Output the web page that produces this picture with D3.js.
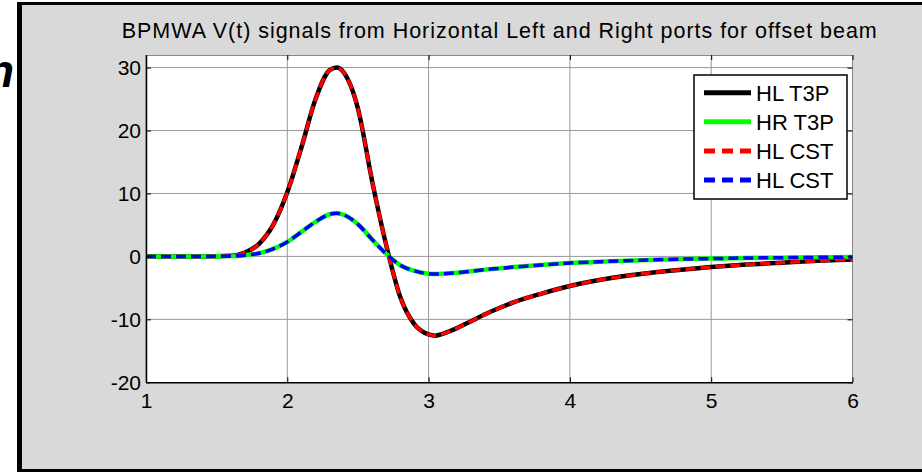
<!DOCTYPE html>
<html>
<head>
<meta charset="utf-8">
<script src="https://cdn.jsdelivr.net/npm/d3@7"></script>
<style>
  body { margin: 0; background: #fff; }
  svg { display: block; font-family: "Liberation Sans", Arial, sans-serif; }
</style>
</head>
<body>
<div id="chart"></div>
<script>
// time axis (ns) and signal values
const tValues = [1.0, 1.2, 1.4, 1.6, 1.7, 1.8, 1.9, 2.0, 2.1, 2.2, 2.3, 2.35, 2.4, 2.5, 2.6, 2.7, 2.8, 2.9, 3.0, 3.05, 3.1, 3.2, 3.3, 3.4, 3.5, 3.6, 3.8, 4.0, 4.25, 4.5, 4.75, 5.0, 5.25, 5.5, 5.75, 6.0];
const hlT3P = [0, 0, 0, 0.1, 0.6, 2.0, 5.0, 10.2, 17.3, 25.0, 29.6, 30.0, 29.2, 23.5, 12.0, 1.8, -6.5, -10.8, -12.4, -12.6, -12.3, -11.4, -10.3, -9.2, -8.2, -7.3, -5.9, -4.7, -3.6, -2.8, -2.2, -1.7, -1.3, -1.0, -0.7, -0.5];
const hrT3P = [0, 0, 0, 0.05, 0.2, 0.5, 1.2, 2.3, 3.9, 5.5, 6.7, 6.85, 6.6, 5.1, 2.7, 0.4, -1.4, -2.3, -2.75, -2.8, -2.75, -2.6, -2.35, -2.1, -1.9, -1.7, -1.35, -1.05, -0.8, -0.6, -0.45, -0.35, -0.25, -0.2, -0.15, -0.1];
const hlCST = [0, 0, 0, 0.1, 0.6, 2.0, 5.0, 10.2, 17.3, 25.0, 29.6, 30.0, 29.2, 23.5, 12.0, 1.8, -6.5, -10.8, -12.4, -12.6, -12.3, -11.4, -10.3, -9.2, -8.2, -7.3, -5.9, -4.7, -3.6, -2.8, -2.2, -1.7, -1.3, -1.0, -0.7, -0.5];
const hrCST = [0, 0, 0, 0.05, 0.2, 0.5, 1.2, 2.3, 3.9, 5.5, 6.7, 6.85, 6.6, 5.1, 2.7, 0.4, -1.4, -2.3, -2.75, -2.8, -2.75, -2.6, -2.35, -2.1, -1.9, -1.7, -1.35, -1.05, -0.8, -0.6, -0.45, -0.35, -0.25, -0.2, -0.15, -0.1];

const xTicks = [1, 2, 3, 4, 5, 6];
const yTicks = [-20, -10, 0, 10, 20, 30];
const legendLabels = ['HL T3P', 'HR T3P', 'HL CST', 'HL CST'];
const title = 'BPMWA V(t) signals from Horizontal Left and Right ports for offset beam';

const series = [
  { name: legendLabels[0], values: hlT3P, color: '#000000', dash: null, w: 4.5 },
  { name: legendLabels[1], values: hrT3P, color: '#00ff00', dash: null, w: 4.5 },
  { name: legendLabels[2], values: hlCST, color: '#ff0000', dash: '10,5', w: 3.5 },
  { name: legendLabels[3], values: hrCST, color: '#0000ff', dash: '10,5', w: 3.5 },
];

const W = 922, H = 472;
const plot = { left: 146, right: 852.5, top: 55, bottom: 382.3 };

const svg = d3.select('#chart').append('svg')
  .attr('width', W)
  .attr('height', H);

// window frame
svg.append('rect').attr('x', 0).attr('y', 0).attr('width', W).attr('height', H).attr('fill', '#fff');
svg.append('text')
  .attr('x', -14).attr('y', 87)
  .attr('font-size', 46).attr('font-style', 'italic').attr('font-weight', 'bold')
  .text('n');
svg.append('rect')
  .attr('x', 19.5).attr('y', 3.5).attr('width', W + 10).attr('height', 467)
  .attr('fill', '#d9d9d9').attr('stroke', '#000').attr('stroke-width', 3);
svg.append('line')
  .attr('x1', 19.5).attr('x2', 19.5).attr('y1', 2).attr('y2', H)
  .attr('stroke', '#000').attr('stroke-width', 5);

const x = d3.scaleLinear().domain([1, 6]).range([plot.left, plot.right]);
const y = d3.scaleLinear().domain([-20, 32]).range([plot.bottom, plot.top]);

svg.append('rect')
  .attr('x', plot.left).attr('y', plot.top)
  .attr('width', plot.right - plot.left).attr('height', plot.bottom - plot.top)
  .attr('fill', '#fff');

// grid
svg.append('g').selectAll('line').data(xTicks).join('line')
  .attr('x1', d => x(d)).attr('x2', d => x(d))
  .attr('y1', plot.top).attr('y2', plot.bottom)
  .attr('stroke', '#999').attr('stroke-width', 1);
svg.append('g').selectAll('line').data(yTicks.filter(d => d > -20)).join('line')
  .attr('x1', plot.left).attr('x2', plot.right)
  .attr('y1', d => y(d)).attr('y2', d => y(d))
  .attr('stroke', '#999').attr('stroke-width', 1);

// box top / right
svg.append('line')
  .attr('x1', plot.left).attr('x2', plot.right).attr('y1', plot.top + 0.5).attr('y2', plot.top + 0.5)
  .attr('stroke', '#888');
svg.append('line')
  .attr('x1', plot.right).attr('x2', plot.right).attr('y1', plot.top).attr('y2', plot.bottom)
  .attr('stroke', '#888');

// curves
const line = d3.line()
  .x((d, i) => x(tValues[i]))
  .y(d => y(d))
  .curve(d3.curveMonotoneX);

svg.append('g').selectAll('path').data(series).join('path')
  .attr('d', d => line(d.values))
  .attr('fill', 'none')
  .attr('stroke', d => d.color)
  .attr('stroke-width', d => d.w)
  .attr('stroke-dasharray', d => d.dash)
  .attr('stroke-linejoin', 'round');

// axes (plain hyphen for negatives, like the original)
const fmt = d => String(d);
const styleAxis = g => {
  g.selectAll('text').attr('font-size', 21).attr('fill', '#000').attr('font-family', '"Liberation Sans", Arial, sans-serif');
  g.selectAll('line').attr('stroke', '#000');
};

svg.append('g')
  .attr('transform', `translate(0, ${plot.bottom})`)
  .call(d3.axisBottom(x).tickValues(xTicks).tickFormat(fmt).tickSizeInner(-5).tickSizeOuter(0).tickPadding(11))
  .call(styleAxis)
  .call(g => g.select('.domain').attr('stroke', '#000').attr('stroke-width', 1.5));

svg.append('g')
  .attr('transform', `translate(${plot.left}, 0)`)
  .call(d3.axisLeft(y).tickValues(yTicks).tickFormat(fmt).tickSizeInner(-5).tickSizeOuter(0).tickPadding(5))
  .call(styleAxis)
  .call(g => g.select('.domain').attr('stroke', '#000').attr('stroke-width', 1.5));

svg.append('g')
  .attr('transform', `translate(0, ${plot.top})`)
  .call(d3.axisTop(x).tickValues(xTicks).tickFormat('').tickSizeInner(-5).tickSizeOuter(0))
  .call(g => g.select('.domain').remove())
  .call(g => g.selectAll('line').attr('stroke', '#000'));

svg.append('g')
  .attr('transform', `translate(${plot.right}, 0)`)
  .call(d3.axisRight(y).tickValues(yTicks).tickFormat('').tickSizeInner(-5).tickSizeOuter(0))
  .call(g => g.select('.domain').remove())
  .call(g => g.selectAll('line').attr('stroke', '#000'));

// title
svg.append('text')
  .attr('x', (plot.left + plot.right) / 2)
  .attr('y', 38)
  .attr('text-anchor', 'middle')
  .attr('font-size', 21.5)
  .attr('textLength', 755)
  .text(title);

// legend
const legend = svg.append('g').attr('transform', 'translate(694, 75)');
legend.append('rect')
  .attr('width', 153).attr('height', 124)
  .attr('fill', '#fff').attr('stroke', '#000').attr('stroke-width', 1.5);

const rows = legend.selectAll('g.row').data(series).join('g')
  .attr('class', 'row')
  .attr('transform', (d, i) => `translate(0, ${17.7 + i * 29.1})`);
rows.append('line')
  .attr('x1', 10).attr('x2', 57)
  .attr('stroke', d => d.color)
  .attr('stroke-width', 5)
  .attr('stroke-dasharray', d => d.dash ? '11,7' : null);
rows.append('text')
  .attr('x', 62).attr('y', 8)
  .attr('font-size', 22)
  .text(d => d.name);
</script>
</body>
</html>
